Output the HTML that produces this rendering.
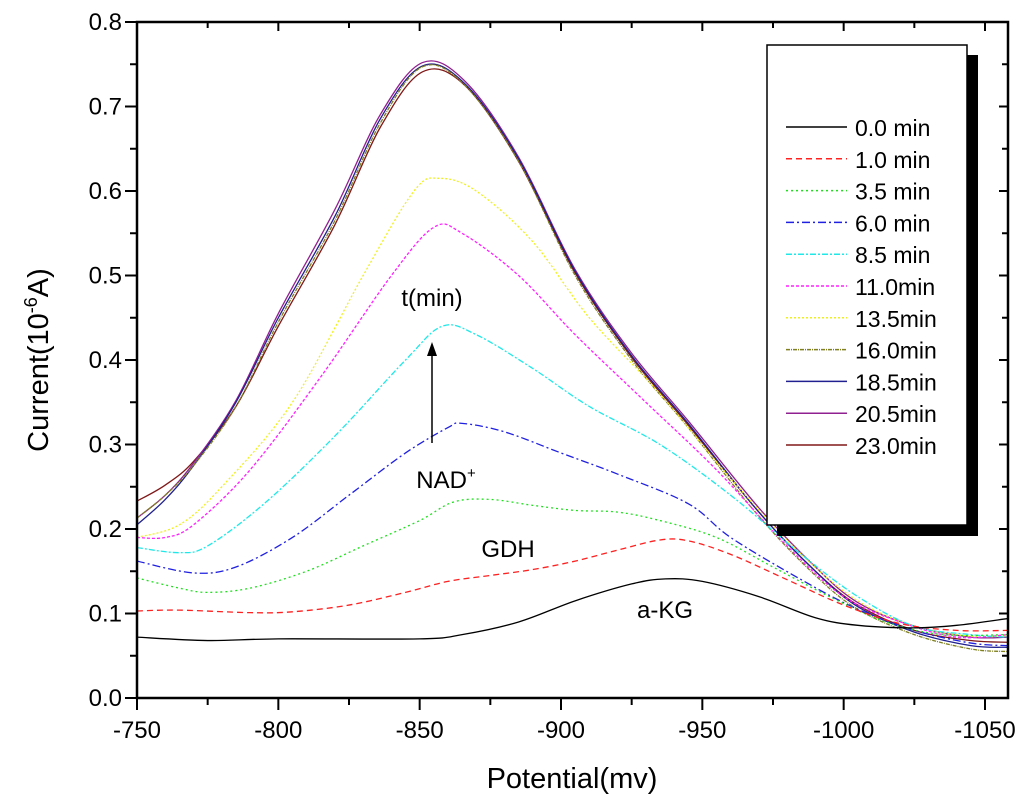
<!DOCTYPE html>
<html><head><meta charset="utf-8"><style>
body{margin:0;background:#fff;}
svg{display:block;font-family:"Liberation Sans",Arial,sans-serif;}
</style></head><body>
<svg id="chart" width="1024" height="812" viewBox="0 0 1024 812" xmlns="http://www.w3.org/2000/svg">
<g id="plot"></g>
</svg>
<script>
const xTicks=[-750,-800,-850,-900,-950,-1000,-1050];
const yTicks=[0.0,0.1,0.2,0.3,0.4,0.5,0.6,0.7,0.8];
const seriesNames=["0.0 min","1.0 min","3.5 min","6.0 min","8.5 min","11.0min","13.5min","16.0min","18.5min","20.5min","23.0min"];
const s0x=[-750,-775,-800,-850,-865,-885,-905,-925,-937,-950,-970,-990,-1005,-1025,-1040,-1058];
const s0y=[0.072,0.068,0.07,0.07,0.075,0.09,0.115,0.135,0.141,0.138,0.12,0.095,0.086,0.083,0.086,0.094];
const s1x=[-750,-765,-790,-805,-825,-845,-860,-875,-890,-905,-920,-935,-945,-960,-980,-1000,-1020,-1040,-1058];
const s1y=[0.103,0.104,0.101,0.102,0.11,0.125,0.138,0.145,0.152,0.162,0.175,0.187,0.186,0.17,0.14,0.11,0.088,0.08,0.08];
const s2x=[-750,-765,-775,-790,-810,-830,-850,-862,-875,-890,-905,-920,-935,-955,-975,-995,-1015,-1035,-1058];
const s2y=[0.142,0.13,0.125,0.13,0.15,0.18,0.21,0.232,0.235,0.228,0.222,0.22,0.21,0.19,0.155,0.12,0.09,0.075,0.075];
const s3x=[-750,-770,-785,-805,-825,-845,-860,-865,-880,-900,-920,-945,-960,-985,-1005,-1025,-1045,-1058];
const s3y=[0.162,0.148,0.155,0.19,0.24,0.29,0.32,0.325,0.315,0.29,0.265,0.23,0.19,0.14,0.105,0.08,0.065,0.062];
const s4x=[-750,-765,-775,-795,-820,-845,-858,-870,-890,-910,-935,-960,-985,-1005,-1025,-1045,-1058];
const s4y=[0.178,0.172,0.18,0.23,0.31,0.4,0.44,0.43,0.39,0.345,0.3,0.24,0.17,0.12,0.085,0.075,0.072];
const s5x=[-750,-760,-770,-790,-815,-840,-855,-865,-885,-905,-930,-955,-980,-1000,-1020,-1040,-1058];
const s5y=[0.19,0.19,0.205,0.27,0.38,0.5,0.557,0.55,0.5,0.43,0.35,0.27,0.18,0.12,0.09,0.072,0.075];
const s6x=[-750,-765,-780,-805,-830,-848,-857,-870,-890,-910,-935,-960,-985,-1005,-1025,-1045,-1058];
const s6y=[0.19,0.205,0.25,0.35,0.5,0.6,0.615,0.6,0.54,0.45,0.36,0.26,0.17,0.115,0.085,0.073,0.074];
const topX=[-750,-760,-770,-785,-800,-820,-836,-851,-866,-885,-905,-925,-945,-970,-990,-1005,-1025,-1045,-1058];
const s7y=[0.213,0.24,0.275,0.345,0.445,0.565,0.68,0.747,0.725,0.635,0.5,0.4,0.32,0.215,0.145,0.105,0.075,0.058,0.055];
const s8y=[0.205,0.235,0.275,0.35,0.45,0.57,0.685,0.748,0.727,0.638,0.505,0.405,0.325,0.22,0.15,0.108,0.078,0.062,0.06];
const s9y=[0.213,0.24,0.278,0.352,0.455,0.578,0.69,0.752,0.73,0.64,0.507,0.408,0.328,0.225,0.155,0.113,0.085,0.072,0.072];
const s10y=[0.233,0.252,0.28,0.345,0.44,0.56,0.675,0.741,0.725,0.635,0.503,0.403,0.323,0.22,0.15,0.11,0.08,0.068,0.066];
const seriesX=[s0x,s1x,s2x,s3x,s4x,s5x,s6x,topX,topX,topX,topX];
const seriesY=[s0y,s1y,s2y,s3y,s4y,s5y,s6y,s7y,s8y,s9y,s10y];
const colors=["#000","#ff2020","#20e020","#2020e0","#20e8e8","#ff20ff","#f0f020","#808020","#202090","#902090","#801818"];
const dashes=["","6,4","2,3","8,3,2,3","6,2,2,2","3,2","2,2","4,1,1,1","","",""];

const L=137,R=1008,T=22,B=698;
const X=v=>L+(-750-v)*(848/300);
const Y=v=>B-v*(B-T)/0.8;
const NS="http://www.w3.org/2000/svg";
const g=document.getElementById('plot');
function mk(tag,attrs,parent){const e=document.createElementNS(NS,tag);for(const k in attrs)e.setAttribute(k,attrs[k]);(parent||g).appendChild(e);return e;}
function smooth(pts){let d="M"+pts[0][0]+","+pts[0][1];for(let i=0;i<pts.length-1;i++){const p0=pts[i-1]||pts[i],p1=pts[i],p2=pts[i+1],p3=pts[i+2]||p2;
const c1=[p1[0]+(p2[0]-p0[0])/6,p1[1]+(p2[1]-p0[1])/6],c2=[p2[0]-(p3[0]-p1[0])/6,p2[1]-(p3[1]-p1[1])/6];
d+=` C${c1[0]},${c1[1]} ${c2[0]},${c2[1]} ${p2[0]},${p2[1]}`;}return d;}

const defs=mk('defs',{});const cp=mk('clipPath',{id:'clip'},defs);mk('rect',{x:L,y:T,width:R-L,height:B-T},cp);
const lines=mk('g',{'clip-path':'url(#clip)'});


for(let i=seriesY.length-1;i>=0;i--){
  const pts=seriesX[i].map((x,j)=>[X(x),Y(seriesY[i][j])]);
  const p=mk('path',{d:smooth(pts),fill:'none',stroke:colors[i],'stroke-width':1.3},lines);
  if(dashes[i])p.setAttribute('stroke-dasharray',dashes[i]);
  
  
}
const frame=mk('rect',{x:L,y:T,width:R-L,height:B-T,fill:'none',stroke:'#000','stroke-width':2.5});


xTicks.forEach(v=>{
  const x=X(v);
  mk('line',{x1:x,y1:B,x2:x,y2:B+12,stroke:'#000','stroke-width':2});
  mk('line',{x1:x,y1:T,x2:x,y2:T+9,stroke:'#000','stroke-width':2});
  const t=mk('text',{x:x,y:B+40,'text-anchor':'middle','font-size':24});
  t.textContent=v;
  
  
  const m=v-25;
  if(X(m)<R){mk('line',{x1:X(m),y1:B,x2:X(m),y2:B+7,stroke:'#000','stroke-width':2});
  mk('line',{x1:X(m),y1:T,x2:X(m),y2:T+6,stroke:'#000','stroke-width':2});}
});
yTicks.forEach(v=>{
  const y=Y(v);
  mk('line',{x1:L-12,y1:y,x2:L,y2:y,stroke:'#000','stroke-width':2});
  mk('line',{x1:R,y1:y,x2:R-9,y2:y,stroke:'#000','stroke-width':2});
  const t=mk('text',{x:L-15,y:y+8,'text-anchor':'end','font-size':24});
  t.textContent=v.toFixed(1);
  
  
  if(v<0.8){const ym=Y(v+0.05);
  mk('line',{x1:L-7,y1:ym,x2:L,y2:ym,stroke:'#000','stroke-width':2});
  mk('line',{x1:R,y1:ym,x2:R-6,y2:ym,stroke:'#000','stroke-width':2});}
});
const xt=mk('text',{x:572,y:788,'text-anchor':'middle','font-size':29});
xt.textContent='Potential(mv)';


const yt=mk('text',{transform:'translate(48,360) rotate(-90)','text-anchor':'middle','font-size':29});
yt.innerHTML='Current(10<tspan dy="-11" font-size="18">-6</tspan><tspan dy="11">A)</tspan>';


function ann(txt,x,y,name){const t=mk('text',{x:x,y:y,'text-anchor':'middle','font-size':24});t.innerHTML=txt;}
ann('t(min)',432,306,'annotation-time');
ann('NAD<tspan dy="-10" font-size="15">+</tspan>',446,488,'annotation-nad');
ann('GDH',508,557,'annotation-gdh');
ann('a-KG',665,618,'annotation-akg');
const ar=mk('line',{x1:432,y1:443,x2:432,y2:352,stroke:'#000','stroke-width':1.5});


mk('path',{d:'M432,342 L427,356 L437,356 Z',fill:'#000'});
const lg=mk('g',{});


mk('rect',{x:777,y:55,width:201,height:481,fill:'#000'},lg);
mk('rect',{x:767,y:45,width:200,height:480,fill:'#fff',stroke:'#000','stroke-width':1.5},lg);
seriesNames.forEach((n,i)=>{
  const y=127+i*31.8;
  const ln=mk('line',{x1:786,y1:y,x2:847,y2:y,stroke:colors[i],'stroke-width':1.5},lg);
  if(dashes[i])ln.setAttribute('stroke-dasharray',dashes[i]);
  
  
  const t=mk('text',{x:855,y:y+9,'font-size':23},lg);
  t.textContent=n;
  
  
});
</script>
</body></html>
